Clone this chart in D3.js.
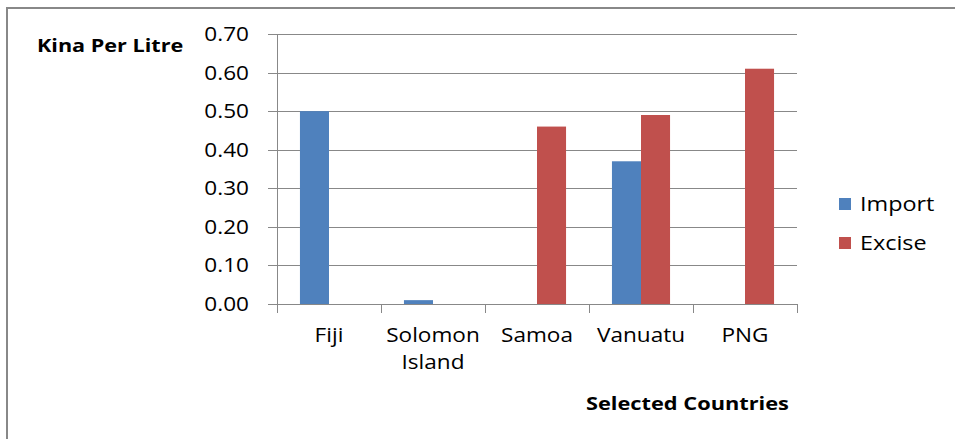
<!DOCTYPE html>
<html>
<head>
<meta charset="utf-8">
<script src="https://cdn.jsdelivr.net/npm/d3@7"></script>
<style>
  html, body { margin: 0; padding: 0; background: #fff; }
  svg { display: block; }
  text { font-family: "Open Sans", sans-serif; fill: #000; }
</style>
</head>
<body>
<svg id="chart" width="955" height="439"></svg>
<script>
// Fuel tax per litre by country
const countries = [["Fiji"], ["Solomon", "Island"], ["Samoa"], ["Vanuatu"], ["PNG"]];
const seriesNames = ["Import", "Excise"];
const importValues = [0.50, 0.01, 0, 0.37, 0];
const exciseValues = [0, 0, 0.46, 0.49, 0.61];
const yTicks = [0, 0.1, 0.2, 0.3, 0.4, 0.5, 0.6, 0.7];
const colors = ["#4f81bd", "#c0504d"];

const svg = d3.select("#chart");

// Place a text at (x, y) with a slight horizontal widening of its glyphs
function place(sel, fx, fy, sx) {
  sel.attr("transform", (d, i) => `translate(${fx(d, i)},${fy(d, i)}) scale(${sx},1)`);
}

// Outer chart frame (open to the right and bottom)
svg.append("rect")
  .attr("x", 7).attr("y", 8)
  .attr("width", 1000).attr("height", 500)
  .attr("fill", "none").attr("stroke", "#888").attr("stroke-width", 2);

const plot = { left: 277, right: 797, top: 34, bottom: 304 };

const x0 = d3.scaleBand()
  .domain(d3.range(countries.length))
  .range([plot.left, plot.right])
  .paddingInner(0).paddingOuter(0);
const x1 = d3.scaleBand()
  .domain(seriesNames)
  .range([0, x0.bandwidth()])
  .paddingInner(0).paddingOuter(0.79);
const y = d3.scaleLinear().domain([0, 0.7]).range([plot.bottom, plot.top]);

// Gridlines with their small tick stubs to the left of the axis
svg.append("g")
  .selectAll("line")
  .data(yTicks)
  .join("line")
  .attr("x1", plot.left - 9).attr("x2", plot.right)
  .attr("y1", d => Math.round(y(d)) + 0.5).attr("y2", d => Math.round(y(d)) + 0.5)
  .attr("stroke", "#888").attr("stroke-width", 1);

// Y tick labels
const yLabels = svg.append("g")
  .selectAll("text")
  .data(yTicks)
  .join("text")
  .attr("dy", "0.35em")
  .attr("text-anchor", "end")
  .attr("font-size", 20)
  .text(d => d3.format(".2f")(d));
place(yLabels, () => 249, d => y(d), 1.13);

// Bars
const rows = countries.map((c, i) => ({ i, vals: [importValues[i], exciseValues[i]] }));
const groups = svg.append("g")
  .selectAll("g")
  .data(rows)
  .join("g")
  .attr("transform", d => `translate(${x0(d.i)},0)`);
groups.selectAll("rect")
  .data(d => d.vals.map((v, k) => ({ v, k })))
  .join("rect")
  .attr("x", d => x1(seriesNames[d.k]))
  .attr("width", x1.bandwidth())
  .attr("y", d => y(d.v))
  .attr("height", d => y(0) - y(d.v))
  .attr("fill", d => colors[d.k]);

// Vertical axis line
svg.append("line")
  .attr("x1", plot.left + 0.5).attr("x2", plot.left + 0.5)
  .attr("y1", plot.top).attr("y2", plot.bottom)
  .attr("stroke", "#888");

// Baseline and category tick marks
svg.append("line")
  .attr("x1", plot.left).attr("x2", plot.right)
  .attr("y1", Math.round(y(0)) + 0.5).attr("y2", Math.round(y(0)) + 0.5)
  .attr("stroke", "#888");
const catEdges = d3.range(countries.length + 1).map(i => plot.left + i * x0.bandwidth());
svg.append("g")
  .selectAll("line")
  .data(catEdges)
  .join("line")
  .attr("x1", d => Math.round(d) + 0.5).attr("x2", d => Math.round(d) + 0.5)
  .attr("y1", plot.bottom).attr("y2", plot.bottom + 9)
  .attr("stroke", "#888");

// Category labels, one text per line
const catLines = countries.flatMap((lines, i) => lines.map((t, k) => ({ t, i, k })));
const catLabels = svg.append("g")
  .selectAll("text")
  .data(catLines)
  .join("text")
  .attr("text-anchor", "middle")
  .attr("font-size", 20)
  .text(d => d.t);
place(catLabels, d => x0(d.i) + x0.bandwidth() / 2, d => 342 + d.k * 27, 1.13);

// Axis titles
const yTitle = svg.append("text")
  .datum("Kina Per Litre")
  .attr("font-size", 18).attr("font-weight", "bold")
  .text(d => d);
place(yTitle, () => 37, () => 52, 1.2);
const xTitle = svg.append("text")
  .datum("Selected Countries")
  .attr("font-size", 18).attr("font-weight", "bold")
  .text(d => d);
place(xTitle, () => 586, () => 410, 1.21);

// Legend
const legend = svg.append("g")
  .selectAll("g")
  .data(seriesNames)
  .join("g")
  .attr("transform", (d, i) => `translate(839,${198 + i * 39})`);
legend.append("rect")
  .attr("width", 12).attr("height", 12)
  .attr("fill", (d, i) => colors[i]);
const legendText = legend.append("text")
  .attr("dy", "0.35em")
  .attr("font-size", 20)
  .text(d => d);
place(legendText, () => 21, () => 6, 1.17);
</script>
</body>
</html>
